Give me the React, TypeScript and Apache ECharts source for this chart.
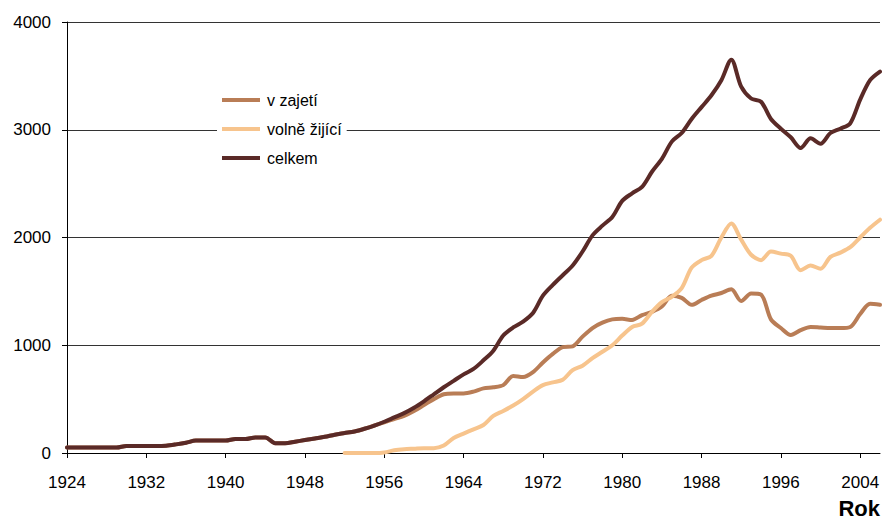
import React, { useEffect, useRef } from "react";
import * as echarts from "echarts";

const years: string[] = [];
for (let y = 1924; y <= 2006; y++) years.push(String(y));

const seriesNames = ["v zajetí", "volně žijící", "celkem"];
const colors = ["#b97d56", "#f7c48d", "#5a2a27"];

// celkem 1924..2006
const celkem = [
  50, 50, 50, 50, 50, 50, 65, 65, 65, 65, // 1924-1933
  68, 80, 95, 115, 115, 115, 115, 130, 130, 145, // 1934-1943
  145, 90, 90, 105, 120, 135, 150, 170, 185, 200, // 1944-1953
  225, 255, 290, 330, 370, 420, 480, 545, 610, 670, // 1954-1963
  730, 780, 860, 950, 1090, 1165, 1220, 1300, 1460, 1560, // 1964-1973
  1650, 1740, 1870, 2020, 2110, 2190, 2340, 2410, 2470, 2610, // 1974-1983
  2730, 2890, 2970, 3100, 3210, 3320, 3460, 3650, 3400, 3290, // 1984-1993
  3260, 3100, 3010, 2930, 2830, 2920, 2870, 2970, 3010, 3060, // 1994-2003
  3280, 3460, 3540, // 2004-2006
];

// v zajetí 1924..2006
const vZajeti = [
  50, 50, 50, 50, 50, 50, 65, 65, 65, 65, // 1924-1933
  68, 80, 95, 115, 115, 115, 115, 130, 130, 145, // 1934-1943
  145, 90, 90, 105, 120, 135, 150, 170, 185, 200, // 1944-1953
  225, 255, 285, 315, 345, 390, 445, 500, 545, 553, // 1954-1963
  553, 570, 600, 610, 630, 715, 705, 750, 840, 920, // 1964-1973
  983, 990, 1080, 1160, 1210, 1240, 1245, 1235, 1280, 1310, // 1974-1983
  1360, 1460, 1440, 1375, 1420, 1460, 1485, 1519, 1410, 1480, // 1984-1993
  1470, 1240, 1160, 1095, 1140, 1170, 1165, 1160, 1160, 1170, // 1994-2003
  1290, 1385, 1375, // 2004-2006
];

// volně žijící 1924..2006 (no data before 1952)
const volne: (number | null)[] = [
  null, null, null, null, null, null, null, null, null, null, // 1924-1933
  null, null, null, null, null, null, null, null, null, null, // 1934-1943
  null, null, null, null, null, null, null, null, 0, 0, // 1944-1953
  0, 0, 5, 25, 35, 40, 45, 45, 70, 140, // 1954-1963
  180, 220, 260, 345, 390, 440, 500, 570, 630, 655, // 1964-1973
  680, 770, 810, 880, 940, 1000, 1090, 1170, 1200, 1310, // 1974-1983
  1400, 1450, 1530, 1720, 1790, 1830, 2000, 2130, 1980, 1840, // 1984-1993
  1790, 1870, 1850, 1830, 1696, 1740, 1710, 1820, 1860, 1910, // 1994-2003
  2000, 2090, 2165, // 2004-2006
];

const yTicks = { min: 0, max: 4000, interval: 1000 };
const xAxisTitle = "Rok";

const FONT = "'Liberation Sans', Arial, sans-serif";

export default function App() {
  const ref = useRef<HTMLDivElement>(null);
  useEffect(() => {
    if (!ref.current) return;
    const chart = echarts.init(ref.current, undefined, { renderer: "svg" });
    const data = [vZajeti, volne, celkem];
    chart.setOption({
      animation: false,
      backgroundColor: "#ffffff",
      textStyle: { fontFamily: FONT },
      grid: { left: 67, right: 6, top: 22, bottom: 71, containLabel: false },
      legend: {
        show: true,
        orient: "vertical",
        left: 217,
        top: 86,
        padding: [6, 5, 6, 5],
        backgroundColor: "#ffffff",
        itemWidth: 38,
        itemHeight: 4,
        itemGap: 13,
        icon: "rect",
        data: seriesNames,
        textStyle: { fontSize: 16, color: "#000", fontFamily: FONT, lineHeight: 16, padding: [0, 0, 0, 2] },
      },
      xAxis: {
        type: "category",
        data: years,
        boundaryGap: false,
        axisLine: { show: true, lineStyle: { color: "#000", width: 1 } },
        axisTick: { show: true, interval: 7, length: 5, lineStyle: { color: "#000" } },
        axisLabel: { interval: 7, fontSize: 17, color: "#000", margin: 21, fontFamily: FONT },
        splitLine: { show: false },
      },
      yAxis: {
        type: "value",
        min: yTicks.min,
        max: yTicks.max,
        interval: yTicks.interval,
        axisLine: { show: true, lineStyle: { color: "#000", width: 1 } },
        axisTick: { show: true, length: 5, lineStyle: { color: "#000" } },
        axisLabel: {
          fontSize: 17,
          color: "#000",
          margin: 16,
          fontFamily: FONT,
          formatter: (v: number) => String(v),
        },
        splitLine: { show: true, lineStyle: { color: "#333", width: 1 } },
      },
      graphic: [
        {
          type: "text",
          right: 6,
          top: 497,
          style: { text: xAxisTitle, fontSize: 22, fontWeight: "bold", fill: "#000", fontFamily: FONT },
        },
      ],
      series: seriesNames.map((name, i) => ({
        name,
        type: "line",
        data: data[i],
        smooth: 0.3,
        showSymbol: false,
        symbol: "none",
        connectNulls: false,
        itemStyle: { color: colors[i] },
        lineStyle: { color: colors[i], width: 4, cap: "round", join: "round" },
        z: 2 + i,
      })),
    });
    return () => chart.dispose();
  }, []);
  return <div ref={ref} style={{ position: "fixed", left: 0, top: 0, width: 886, height: 524 }} />;
}
